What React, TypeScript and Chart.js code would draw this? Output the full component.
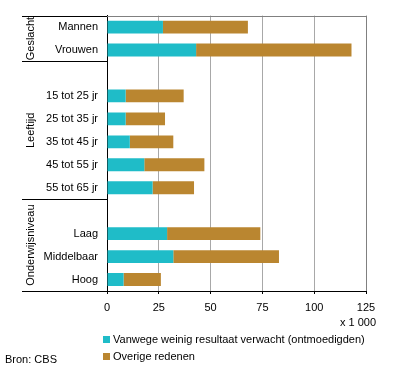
import React, { useEffect, useRef } from "react";
import { Chart, registerables } from "chart.js";

Chart.register(...registerables);

const categories = ["Mannen", "Vrouwen", "", "15 tot 25 jr", "25 tot 35 jr", "35 tot 45 jr", "45 tot 55 jr", "55 tot 65 jr", "", "Laag", "Middelbaar", "Hoog"];
const discouraged = [27, 43, null, 9, 9, 11, 18, 22, null, 29, 32, 8];
const otherReasons = [41, 75, null, 28, 19, 21, 29, 20, null, 45, 51, 18];
const seriesNames = ["Vanwege weinig resultaat verwacht (ontmoedigden)", "Overige redenen"];
const groupNames = ["Geslacht", "Leeftijd", "Onderwijsniveau"];
const groupStart = [0, 2, 8];
const groupEnd = [1, 7, 11];
const xTicks = [0, 25, 50, 75, 100, 125];
const unitLabel = "x 1 000";
const sourceLabel = "Bron: CBS";

const TEAL = "#1FBCC8";
const BROWN = "#BA8630";
const FONT = "'Liberation Sans', Arial, sans-serif";

const overlay = {
  id: "overlay",
  afterDraw(chart: any) {
    const ctx = chart.ctx;
    const area = chart.chartArea;
    const ys = chart.scales.y;
    ctx.save();
    // top border of plot
    ctx.strokeStyle = "#808080";
    ctx.lineWidth = 1;
    ctx.beginPath();
    ctx.moveTo(area.left, Math.round(area.top) + 0.5);
    ctx.lineTo(area.right, Math.round(area.top) + 0.5);
    ctx.stroke();
    // group separators
    ctx.strokeStyle = "#000";
    const leftX = 22;
    const step = ys.getPixelForValue(1) - ys.getPixelForValue(0);
    const bounds: number[] = [];
    groupStart.forEach((s, i) => {
      const top = ys.getPixelForValue(s) - step / 2;
      const bot = ys.getPixelForValue(groupEnd[i]) + step / 2;
      bounds.push(top);
      if (i === groupStart.length - 1) bounds.push(bot);
    });
    bounds.forEach((b) => {
      const y = Math.round(b) + 0.5;
      ctx.beginPath();
      ctx.moveTo(leftX, y);
      ctx.lineTo(area.left, y);
      ctx.stroke();
    });
    // group labels
    ctx.fillStyle = "#000";
    ctx.font = "11px " + FONT;
    ctx.textAlign = "center";
    ctx.textBaseline = "middle";
    groupNames.forEach((g, i) => {
      const top = ys.getPixelForValue(groupStart[i]) - step / 2;
      const bot = ys.getPixelForValue(groupEnd[i]) + step / 2;
      ctx.save();
      ctx.translate(31, (top + bot) / 2);
      ctx.rotate(-Math.PI / 2);
      ctx.fillText(g, 0, 0);
      ctx.restore();
    });
    // unit label
    ctx.textAlign = "right";
    ctx.fillText(unitLabel, 376, 323);
    // legend
    const colors = chart.data.datasets.map((d: any) => d.backgroundColor);
    const legendY = [339, 356];
    chart.data.datasets.forEach((d: any, i: number) => {
      ctx.fillStyle = colors[i];
      ctx.fillRect(103, legendY[i] - 3, 7, 7);
      ctx.fillStyle = "#000";
      ctx.textAlign = "left";
      ctx.fillText(d.label, 113, legendY[i] + 0.5);
    });
    ctx.fillText(sourceLabel, 5, 360);
    ctx.restore();
  },
};

export default function App() {
  const ref = useRef<HTMLCanvasElement>(null);
  useEffect(() => {
    if (!ref.current) return;
    Chart.defaults.font.family = FONT;
    Chart.defaults.font.size = 11;
    Chart.defaults.color = "#000";
    const chart = new Chart(ref.current, {
      type: "bar",
      data: {
        labels: categories,
        datasets: [
          { label: seriesNames[0], data: discouraged as any, backgroundColor: TEAL, barPercentage: 0.56, categoryPercentage: 1 },
          { label: seriesNames[1], data: otherReasons as any, backgroundColor: BROWN, barPercentage: 0.56, categoryPercentage: 1 },
        ],
      },
      options: {
        indexAxis: "y",
        responsive: false,
        animation: false,
        layout: { padding: { left: 0, top: 13, right: 30, bottom: 0 } },
        plugins: { legend: { display: false }, tooltip: { enabled: false } },
        scales: {
          x: {
            stacked: true,
            min: 0,
            max: 125,
            afterBuildTicks: (scale: any) => {
              scale.ticks = xTicks.map((v) => ({ value: v }));
            },
            afterFit: (scale: any) => {
              scale.height = 85;
            },
            grid: {
              color: (c: any) => (c.tick && c.tick.value === 125 ? "#808080" : "#a8a8a8"),
              tickColor: "#000",
              tickLength: 3,
              drawTicks: true,
            },
            border: { display: true, color: "#000" },
            ticks: { padding: 7, color: "#000", font: { size: 11 } },
          },
          y: {
            stacked: true,
            afterFit: (scale: any) => {
              scale.width = 107;
            },
            grid: { display: false, drawTicks: false },
            border: { display: true, color: "#000" },
            ticks: { padding: 9, color: "#000", font: { size: 11 }, autoSkip: false },
          },
        },
      },
      plugins: [overlay],
    });
    return () => chart.destroy();
  }, []);
  return (
    <div style={{ position: "absolute", left: 0, top: 0, width: 396, height: 376, background: "#fff" }}>
      <canvas ref={ref} width={396} height={376} style={{ display: "block" }} />
    </div>
  );
}
